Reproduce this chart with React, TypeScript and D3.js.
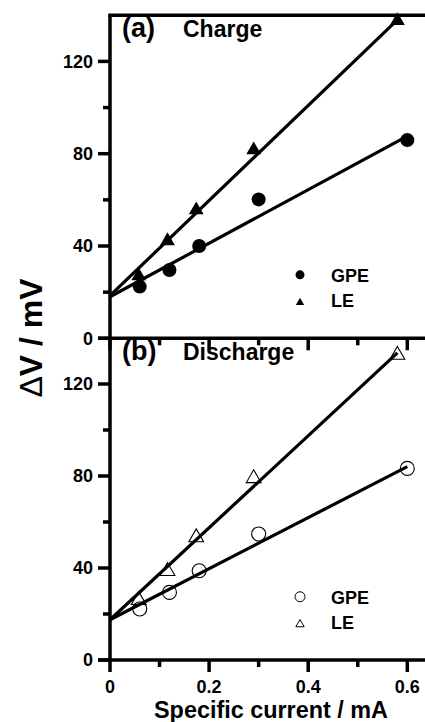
import React from "react";
import * as d3 from "d3";

// Specific current (mA)
const currentsGPE = [0.06, 0.12, 0.18, 0.3, 0.6];
const currentsLE = [0.058, 0.116, 0.174, 0.29, 0.58];
// ΔV (mV)
const chargeGPE = [22.4, 29.6, 40, 60.2, 85.9];
const chargeLE = [27, 42.2, 55.6, 81.6, 137.6];
const dischargeGPE = [22.2, 29.4, 38.8, 54.8, 83.3];
const dischargeLE = [26, 38.6, 53.3, 79, 132.6];
// linear fits: [intercept, slope]
const fitChargeGPE = [18, 116];
const fitChargeLE = [18.5, 206];
const fitDischargeGPE = [17.5, 111];
const fitDischargeLE = [17.5, 200];

const xMajor = [0, 0.2, 0.4, 0.6];
const xMinor = [0.1, 0.3, 0.5];
const yMajor = [0, 40, 80, 120];
const yMinor = [20, 60, 100];

const FONT = "'Liberation Sans', Arial, Helvetica, sans-serif";

const x = d3.scaleLinear().domain([0, 0.6]).range([110, 407.3]);
const xMaxDraw = 0.7;

type PanelProps = {
  y: d3.ScaleLinear<number, number>;
  gpe: number[];
  le: number[];
  fitG: number[];
  fitL: number[];
  filled: boolean;
  label: string;
  title: string;
  showXLabels: boolean;
  topFrame: boolean;
};

function Panel({ y, gpe, le, fitG, fitL, filled, label, title, showXLabels, topFrame }: PanelProps) {
  const x0 = x(0);
  const yb = y(0);
  const yt = y(140);
  const tri = d3.symbol().type(d3.symbolTriangle).size(95)()!;
  const triLeg = d3.symbol().type(d3.symbolTriangle).size(30)()!;
  const fitPath = (fit: number[], xEnd: number) =>
    `M${x(0)},${y(fit[0])}L${x(xEnd)},${y(fit[0] + fit[1] * xEnd)}`;
  const fill = filled ? "#000" : "none";
  const legX = x(0.44);
  return (
    <g>
      {/* fit lines */}
      <path d={fitPath(fitG, currentsGPE[currentsGPE.length - 1])} stroke="#000" strokeWidth={3.2} fill="none" />
      <path d={fitPath(fitL, currentsLE[currentsLE.length - 1])} stroke="#000" strokeWidth={3.2} fill="none" />
      {/* points */}
      {currentsGPE.map((c, i) => (
        <circle key={"g" + i} cx={x(c)} cy={y(gpe[i])} r={7} fill={fill} stroke="#000" strokeWidth={filled ? 0 : 1.1} />
      ))}
      {currentsLE.map((c, i) => (
        <path key={"l" + i} d={tri} transform={`translate(${x(c)},${y(le[i])})`} fill={fill} stroke="#000" strokeWidth={filled ? 0 : 1.1} />
      ))}
      {/* axes */}
      <line x1={x0} x2={x0} y1={yt} y2={yb} stroke="#000" strokeWidth={3.5} />
      <line x1={x0 - 12} x2={x(xMaxDraw)} y1={yb} y2={yb} stroke="#000" strokeWidth={3.5} />
      {topFrame && <line x1={x0 - 1.75} x2={x(xMaxDraw)} y1={yt} y2={yt} stroke="#000" strokeWidth={3.5} />}
      {yMajor.map((v) => (
        <g key={"ym" + v}>
          <line x1={x0 - 12} x2={x0} y1={y(v)} y2={y(v)} stroke="#000" strokeWidth={3.5} />
          <text x={x0 - 17} y={y(v)} dy="0.36em" textAnchor="end" fontFamily={FONT} fontWeight="bold" fontSize={18}>
            {v}
          </text>
        </g>
      ))}
      {yMinor.map((v) => (
        <line key={"yn" + v} x1={x0 - 7} x2={x0} y1={y(v)} y2={y(v)} stroke="#000" strokeWidth={3.5} />
      ))}
      {xMajor.map((v) => (
        <g key={"xm" + v}>
          <line x1={x(v)} x2={x(v)} y1={yb} y2={yb + 12} stroke="#000" strokeWidth={3.5} />
          {showXLabels && (
            <text x={x(v)} y={yb + 33} textAnchor="middle" fontFamily={FONT} fontWeight="bold" fontSize={18}>
              {v}
            </text>
          )}
        </g>
      ))}
      {xMinor.map((v) => (
        <line key={"xn" + v} x1={x(v)} x2={x(v)} y1={yb} y2={yb + 7} stroke="#000" strokeWidth={3.5} />
      ))}
      {/* panel label */}
      <text x={122} y={y(130.5)} fontFamily={FONT} fontWeight="bold" fontSize={27}>
        {label}
      </text>
      <text x={183} y={y(130.5)} fontFamily={FONT} fontWeight="bold" fontSize={23}>
        {title}
      </text>
      {/* legend */}
      <circle cx={legX - 28} cy={y(27.5)} r={filled ? 4.5 : 5} fill={fill} stroke="#000" strokeWidth={filled ? 0 : 1} />
      <text x={legX + 3} y={y(24.5)} fontFamily={FONT} fontWeight="bold" fontSize={18}>GPE</text>
      <path d={triLeg} transform={`translate(${legX - 28},${y(15.5)})`} fill={fill} stroke="#000" strokeWidth={filled ? 0 : 1} />
      <text x={legX + 3} y={y(13.5)} fontFamily={FONT} fontWeight="bold" fontSize={18}>LE</text>
    </g>
  );
}

export default function App() {
  const yTop = d3.scaleLinear().domain([0, 120]).range([338.3, 61.4]);
  const yBot = d3.scaleLinear().domain([0, 120]).range([660, 384]);
  return (
    <div style={{ position: "absolute", left: 0, top: 0 }}>
      <svg width={425} height={722} style={{ display: "block", background: "#fff" }}>
        <Panel y={yTop} gpe={chargeGPE} le={chargeLE} fitG={fitChargeGPE} fitL={fitChargeLE} filled={true} label="(a)" title="Charge" showXLabels={false} topFrame={true} />
        <Panel y={yBot} gpe={dischargeGPE} le={dischargeLE} fitG={fitDischargeGPE} fitL={fitDischargeLE} filled={false} label="(b)" title="Discharge" showXLabels={true} topFrame={false} />
        <text transform="translate(42,338) rotate(-90)" textAnchor="middle" fontFamily={FONT} fontWeight="bold" fontSize={32}>
          <tspan fontWeight="normal">Δ</tspan>V / mV
        </text>
        <text x={271} y={718} textAnchor="middle" fontFamily={FONT} fontWeight="bold" fontSize={23.4}>
          Specific current / mA
        </text>
      </svg>
    </div>
  );
}
